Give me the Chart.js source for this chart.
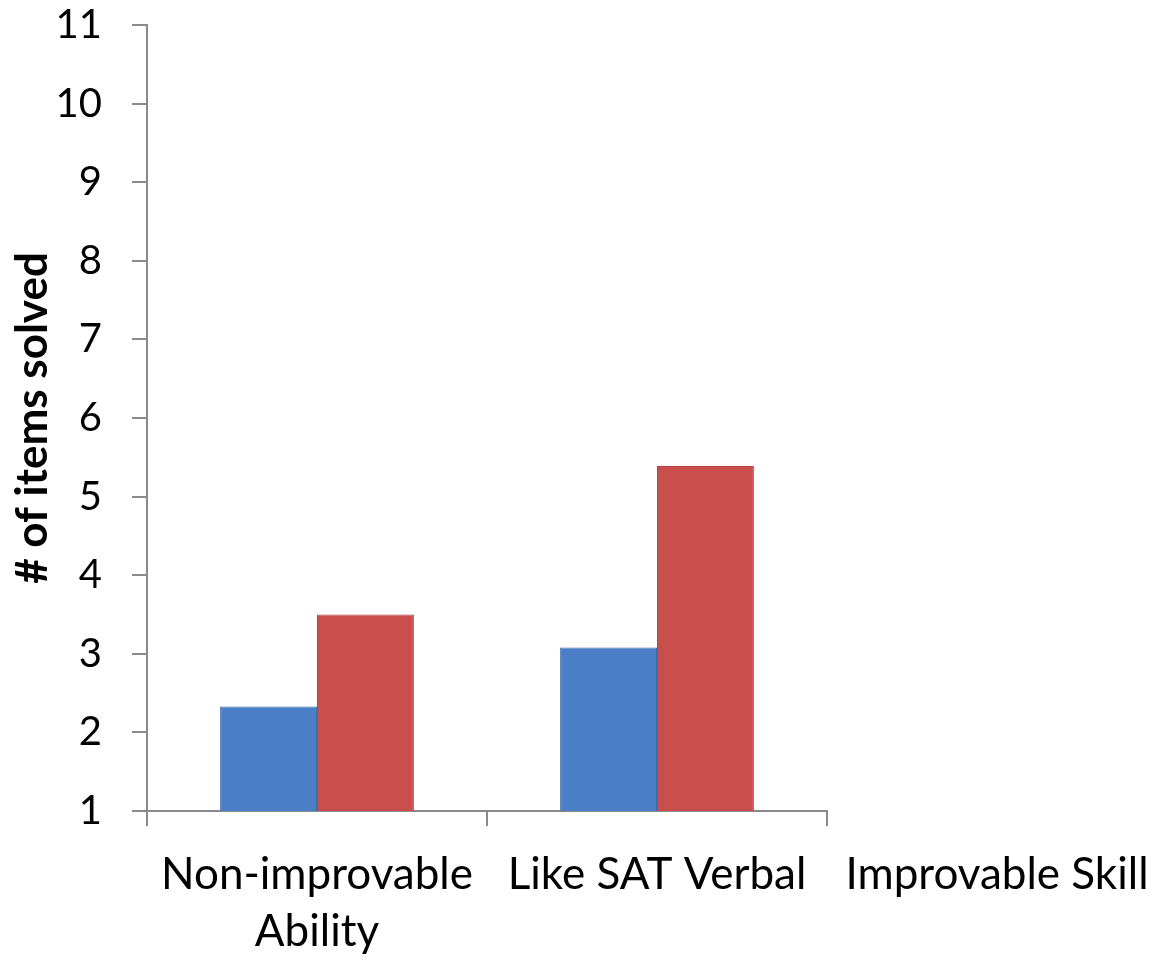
<!DOCTYPE html>
<html>
<head>
<meta charset="utf-8">
<script src="https://cdn.jsdelivr.net/npm/chart.js@4/dist/chart.umd.min.js"></script>
<style>
  html, body { margin: 0; padding: 0; background: #ffffff; }
  #wrap { width: 1157px; height: 957px; }
</style>
</head>
<body>
<div id="wrap"><canvas id="chart"></canvas></div>
<script>
// Categories along the x axis (the last one has no bars and sits past the axis end)
const categories = [['Non-improvable', 'Ability'], 'Like SAT Verbal', 'Improvable Skill'];
// Mean number of items solved per group
const blueValues = [2.33, 3.08, null];
const redValues = [3.5, 5.39, null];
// Y axis tick values
const yTickValues = [1, 2, 3, 4, 5, 6, 7, 8, 9, 10, 11];
const yTitle = '# of items solved';

const AXIS_GRAY = '#8a8a8a';
const FONT = 'Lato';
const X_TICK_FONT = { family: FONT, size: 44, lineHeight: 1.3 };
const Y_TICK_FONT = { family: FONT, size: 40 };
const X_TICK_LEN = 15;
const X_TICK_PAD = 20;

// Draws the label of the category that lies beyond the plotted range
const outerCategoryLabel = {
  id: 'outerCategoryLabel',
  afterDraw(chart) {
    const xs = chart.scales.x;
    const ctx = chart.ctx;
    const lineH = X_TICK_FONT.size * X_TICK_FONT.lineHeight;
    for (let i = xs.max + 1; i < categories.length; i++) {
      const px = xs.getPixelForValue(i);
      const lines = Array.isArray(categories[i]) ? categories[i] : [categories[i]];
      ctx.save();
      ctx.font = `${X_TICK_FONT.size}px ${FONT}`;
      ctx.fillStyle = '#000000';
      ctx.textAlign = 'center';
      ctx.textBaseline = 'middle';
      lines.forEach((ln, k) => {
        ctx.fillText(ln, px, xs.top + X_TICK_LEN + X_TICK_PAD + lineH / 2 + k * lineH);
      });
      ctx.restore();
    }
  }
};

new Chart(document.getElementById('chart'), {
  type: 'bar',
  data: {
    labels: categories,
    datasets: [
      {
        label: 'Group A',
        data: blueValues,
        backgroundColor: '#4a7ec6',
        borderColor: '#3d6cab',
        borderWidth: 1,
        barPercentage: 1.0,
        categoryPercentage: 0.57
      },
      {
        label: 'Group B',
        data: redValues,
        backgroundColor: '#c94f4d',
        borderColor: '#b84341',
        borderWidth: 1,
        barPercentage: 1.0,
        categoryPercentage: 0.57
      }
    ]
  },
  options: {
    responsive: true,
    maintainAspectRatio: false,
    devicePixelRatio: 1,
    animation: false,
    layout: { padding: { left: 0, right: 330, top: 0, bottom: 0 } },
    plugins: {
      legend: { display: false },
      tooltip: { enabled: false }
    },
    scales: {
      x: {
        type: 'category',
        min: 0,
        max: 1,
        offset: true,
        grid: {
          offset: true,
          drawOnChartArea: false,
          drawTicks: true,
          tickLength: X_TICK_LEN,
          color: AXIS_GRAY,
          lineWidth: 2
        },
        border: { display: true, color: AXIS_GRAY, width: 2 },
        ticks: {
          color: '#000000',
          font: X_TICK_FONT,
          padding: X_TICK_PAD,
          maxRotation: 0,
          autoSkip: false
        },
        afterFit(scale) { scale.height = 957 - 811; }
      },
      y: {
        type: 'linear',
        min: 1,
        max: 11,
        afterBuildTicks(scale) {
          scale.ticks = yTickValues.map(v => ({ value: v }));
        },
        grid: {
          drawOnChartArea: false,
          drawTicks: true,
          tickLength: 15,
          color: AXIS_GRAY,
          lineWidth: 2
        },
        border: { display: true, color: AXIS_GRAY, width: 2 },
        ticks: {
          color: '#000000',
          font: Y_TICK_FONT,
          padding: 30
        },
        title: {
          display: true,
          text: yTitle,
          color: '#000000',
          font: { family: FONT, size: 44, weight: 'bold' },
          padding: { top: 6, bottom: 0 }
        },
        afterFit(scale) {
          scale.width = 147;
          scale.paddingTop = 25;
          scale.paddingBottom = 25;
        }
      }
    }
  },
  plugins: [outerCategoryLabel]
});
</script>
</body>
</html>
